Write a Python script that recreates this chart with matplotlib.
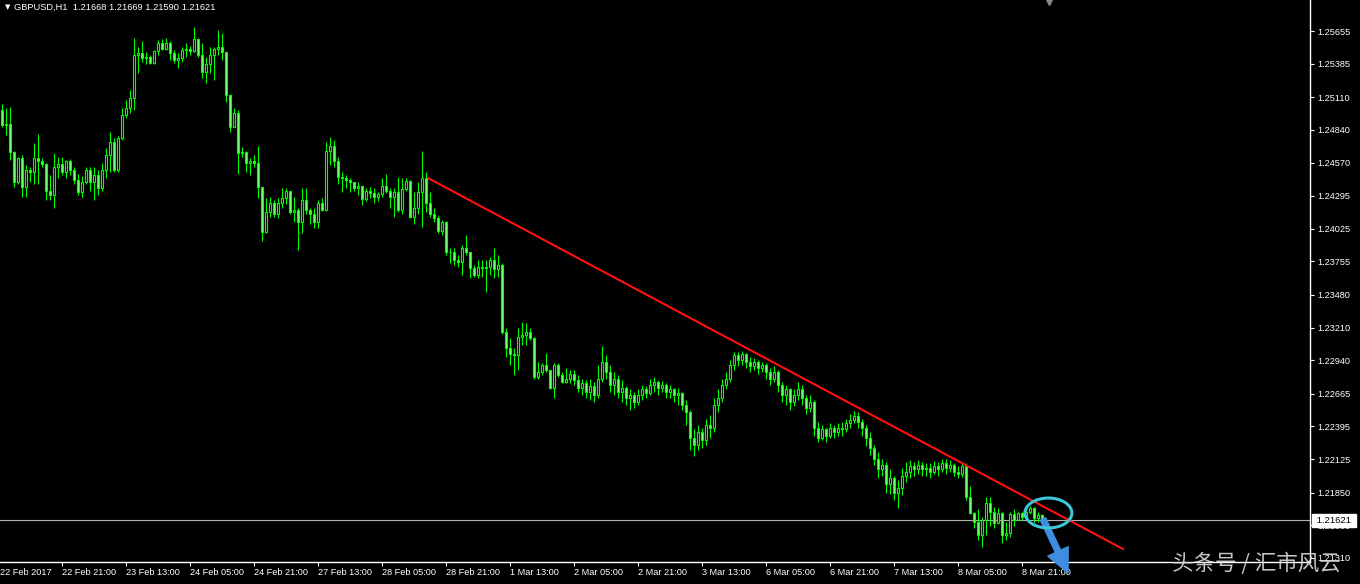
import matplotlib.pyplot as plt
import numpy as np
import pandas as pd
from matplotlib.patches import Ellipse
from matplotlib.transforms import blended_transform_factory

plt.rcParams['font.family'] = ['Liberation Sans', 'DejaVu Sans']

symbol = "GBPUSD,H1"
first_bar_time = "2017-02-22 06:00"
first_open = 1.2500

# hourly closes / highs / lows
closes = [
    1.2488, 1.2489, 1.2466, 1.2441, 1.2461, 1.2437, 1.2451, 1.2449, 1.2461, 1.2458,
    1.2456, 1.2434, 1.2430, 1.2453, 1.2456, 1.2449, 1.2458, 1.2451, 1.2443, 1.2433,
    1.2441, 1.2451, 1.2441, 1.2447, 1.2436, 1.2451, 1.2463, 1.2474, 1.2451, 1.2477,
    1.2496, 1.2502, 1.2510, 1.2546, 1.2547, 1.2543, 1.2544, 1.2539, 1.2549, 1.2556,
    1.2551, 1.2556, 1.2547, 1.2542, 1.2543, 1.2550, 1.2551, 1.2549, 1.2559, 1.2546,
    1.2532, 1.2538, 1.2546, 1.2551, 1.2552, 1.2548, 1.2513, 1.2486, 1.2498, 1.2465,
    1.2466, 1.2457, 1.2458, 1.2457, 1.2437, 1.2400, 1.2416, 1.2424, 1.2415, 1.2424,
    1.2428, 1.2434, 1.2416, 1.2418, 1.2408, 1.2426, 1.2418, 1.2415, 1.2408, 1.2424,
    1.2418, 1.2467, 1.2471, 1.2458, 1.2445, 1.2444, 1.2443, 1.2441, 1.2436, 1.2438,
    1.2427, 1.2434, 1.2432, 1.2429, 1.2431, 1.2438, 1.2434, 1.2429, 1.2433, 1.2418,
    1.2435, 1.2442, 1.2412, 1.2420, 1.2433, 1.2444, 1.2424, 1.2415, 1.2411, 1.2401,
    1.2408, 1.2383, 1.2383, 1.2377, 1.2375, 1.2387, 1.2383, 1.2370, 1.2364, 1.2371,
    1.2370, 1.2371, 1.2377, 1.2369, 1.2373, 1.2317, 1.2304, 1.2299, 1.2298, 1.2313,
    1.2315, 1.2317, 1.2312, 1.2280, 1.2284, 1.2290, 1.2286, 1.2271, 1.2290, 1.2282,
    1.2276, 1.2279, 1.2283, 1.2278, 1.2271, 1.2275, 1.2268, 1.2273, 1.2265, 1.2279,
    1.2293, 1.2284, 1.2274, 1.2279, 1.2268, 1.2271, 1.2263, 1.2265, 1.2260, 1.2265,
    1.2270, 1.2267, 1.2274, 1.2276, 1.2271, 1.2274, 1.2268, 1.2270, 1.2265, 1.2267,
    1.2257, 1.2251, 1.2230, 1.2224, 1.2235, 1.2228, 1.2241, 1.2238, 1.2257, 1.2263,
    1.2274, 1.2279, 1.2290, 1.2298, 1.2294, 1.2299, 1.2293, 1.2289, 1.2293, 1.2288,
    1.2290, 1.2284, 1.2279, 1.2284, 1.2274, 1.2265, 1.2270, 1.2260, 1.2265, 1.2270,
    1.2263, 1.2255, 1.2260, 1.2238, 1.2230, 1.2237, 1.2232, 1.2238, 1.2235, 1.2238,
    1.2237, 1.2242, 1.2245, 1.2248, 1.2243, 1.2238, 1.2230, 1.2222, 1.2213, 1.2204,
    1.2208, 1.2192, 1.2197, 1.2185, 1.2189, 1.2199, 1.2202, 1.2207, 1.2204, 1.2208,
    1.2204, 1.2205, 1.2202, 1.2207, 1.2204, 1.2209, 1.2205, 1.2208, 1.2202, 1.2200,
    1.2207, 1.2181, 1.2168, 1.2161, 1.2150, 1.2162, 1.2176, 1.2169, 1.2160, 1.2168,
    1.2150, 1.2152, 1.2167, 1.2162, 1.2168, 1.2165, 1.2169, 1.2172, 1.2164, 1.21668,
    1.21621,
]
highs = [
    1.2505, 1.2502, 1.2503, 1.2467, 1.2462, 1.2463, 1.2455, 1.2453, 1.2473, 1.2481,
    1.2461, 1.2457, 1.2447, 1.2465, 1.2462, 1.2462, 1.2459, 1.2460, 1.2453, 1.2448,
    1.2446, 1.2453, 1.2453, 1.2453, 1.2451, 1.2457, 1.2469, 1.2482, 1.2477, 1.2479,
    1.2502, 1.2509, 1.2517, 1.2560, 1.2552, 1.2557, 1.2548, 1.2546, 1.2550, 1.2558,
    1.2559, 1.2560, 1.2557, 1.2550, 1.2547, 1.2552, 1.2556, 1.2553, 1.2569, 1.2560,
    1.2556, 1.2544, 1.2552, 1.2552, 1.2566, 1.2564, 1.2548, 1.2514, 1.2502, 1.2500,
    1.2470, 1.2467, 1.2461, 1.2463, 1.2471, 1.2436, 1.2428, 1.2429, 1.2426, 1.2428,
    1.2436, 1.2436, 1.2434, 1.2429, 1.2420, 1.2436, 1.2436, 1.2420, 1.2420, 1.2426,
    1.2428, 1.2474, 1.2478, 1.2476, 1.2462, 1.2449, 1.2447, 1.2444, 1.2441, 1.2441,
    1.2437, 1.2436, 1.2437, 1.2436, 1.2433, 1.2444, 1.2448, 1.2436, 1.2436, 1.2445,
    1.2444, 1.2444, 1.2443, 1.2433, 1.2441, 1.2467, 1.2449, 1.2433, 1.2420, 1.2414,
    1.2410, 1.2409, 1.2387, 1.2387, 1.2381, 1.2389, 1.2397, 1.2383, 1.2373, 1.2377,
    1.2377, 1.2377, 1.2379, 1.2387, 1.2381, 1.2374, 1.2321, 1.2312, 1.2304, 1.2321,
    1.2326, 1.2325, 1.2321, 1.2313, 1.2293, 1.2292, 1.2300, 1.2285, 1.2292, 1.2292,
    1.2284, 1.2288, 1.2286, 1.2286, 1.2282, 1.2279, 1.2278, 1.2279, 1.2276, 1.2290,
    1.2306, 1.2298, 1.2290, 1.2284, 1.2282, 1.2278, 1.2273, 1.2270, 1.2268, 1.2270,
    1.2274, 1.2273, 1.2279, 1.2280, 1.2278, 1.2277, 1.2275, 1.2274, 1.2271, 1.2271,
    1.2268, 1.2261, 1.2253, 1.2237, 1.2241, 1.2238, 1.2246, 1.2249, 1.2263, 1.2270,
    1.2279, 1.2284, 1.2294, 1.2301, 1.2301, 1.2302, 1.2300, 1.2297, 1.2296, 1.2294,
    1.2293, 1.2292, 1.2288, 1.2289, 1.2286, 1.2276, 1.2274, 1.2271, 1.2270, 1.2276,
    1.2274, 1.2265, 1.2265, 1.2261, 1.2243, 1.2241, 1.2238, 1.2242, 1.2241, 1.2242,
    1.2243, 1.2246, 1.2250, 1.2252, 1.2251, 1.2246, 1.2241, 1.2235, 1.2224, 1.2218,
    1.2213, 1.2210, 1.2204, 1.2199, 1.2195, 1.2205, 1.2210, 1.2212, 1.2210, 1.2212,
    1.2210, 1.2209, 1.2209, 1.2211, 1.2210, 1.2213, 1.2213, 1.2212, 1.2209, 1.2207,
    1.2209, 1.2209, 1.2190, 1.2169, 1.2171, 1.2165, 1.2181, 1.2181, 1.2173, 1.2172,
    1.2169, 1.2161, 1.2169, 1.2171, 1.2169, 1.2169, 1.2173, 1.2174, 1.2173, 1.2169,
    1.21669,
]
lows = [
    1.2486, 1.2480, 1.2459, 1.2437, 1.2439, 1.2429, 1.2429, 1.2441, 1.2439, 1.2439,
    1.2453, 1.2426, 1.2426, 1.2420, 1.2444, 1.2447, 1.2444, 1.2447, 1.2439, 1.2430,
    1.2429, 1.2439, 1.2434, 1.2426, 1.2430, 1.2434, 1.2444, 1.2449, 1.2449, 1.2449,
    1.2476, 1.2494, 1.2498, 1.2500, 1.2531, 1.2540, 1.2538, 1.2538, 1.2538, 1.2546,
    1.2550, 1.2550, 1.2542, 1.2539, 1.2535, 1.2540, 1.2544, 1.2546, 1.2548, 1.2544,
    1.2527, 1.2523, 1.2531, 1.2525, 1.2546, 1.2542, 1.2507, 1.2482, 1.2486, 1.2448,
    1.2462, 1.2449, 1.2447, 1.2453, 1.2428, 1.2392, 1.2399, 1.2412, 1.2412, 1.2411,
    1.2420, 1.2423, 1.2415, 1.2408, 1.2385, 1.2399, 1.2415, 1.2406, 1.2403, 1.2403,
    1.2417, 1.2417, 1.2455, 1.2453, 1.2439, 1.2433, 1.2436, 1.2433, 1.2434, 1.2430,
    1.2422, 1.2425, 1.2428, 1.2424, 1.2425, 1.2429, 1.2432, 1.2420, 1.2412, 1.2416,
    1.2415, 1.2434, 1.2411, 1.2406, 1.2415, 1.2404, 1.2416, 1.2412, 1.2408, 1.2399,
    1.2397, 1.2381, 1.2374, 1.2373, 1.2371, 1.2364, 1.2381, 1.2362, 1.2363, 1.2362,
    1.2363, 1.2350, 1.2364, 1.2362, 1.2363, 1.2316, 1.2297, 1.2290, 1.2282, 1.2286,
    1.2307, 1.2307, 1.2311, 1.2279, 1.2279, 1.2282, 1.2284, 1.2270, 1.2263, 1.2280,
    1.2275, 1.2275, 1.2275, 1.2274, 1.2268, 1.2265, 1.2263, 1.2261, 1.2260, 1.2263,
    1.2276, 1.2279, 1.2268, 1.2265, 1.2263, 1.2260, 1.2257, 1.2253, 1.2255, 1.2257,
    1.2261, 1.2263, 1.2265, 1.2268, 1.2265, 1.2268, 1.2263, 1.2263, 1.2260, 1.2257,
    1.2253, 1.2241, 1.2220, 1.2215, 1.2220, 1.2222, 1.2224, 1.2230, 1.2235, 1.2251,
    1.2260, 1.2270, 1.2276, 1.2286, 1.2289, 1.2290, 1.2288, 1.2284, 1.2286, 1.2283,
    1.2284, 1.2279, 1.2274, 1.2276, 1.2268, 1.2260, 1.2257, 1.2253, 1.2256, 1.2261,
    1.2257, 1.2250, 1.2251, 1.2232, 1.2227, 1.2228, 1.2227, 1.2230, 1.2230, 1.2232,
    1.2232, 1.2235, 1.2238, 1.2242, 1.2238, 1.2232, 1.2223, 1.2216, 1.2208, 1.2197,
    1.2199, 1.2185, 1.2184, 1.2179, 1.2172, 1.2183, 1.2194, 1.2197, 1.2199, 1.2200,
    1.2199, 1.2199, 1.2197, 1.2200, 1.2199, 1.2202, 1.2200, 1.2202, 1.2199, 1.2197,
    1.2198, 1.2179, 1.2167, 1.2156, 1.2146, 1.2140, 1.2150, 1.2157, 1.2156, 1.2161,
    1.2143, 1.2146, 1.2148, 1.2157, 1.2162, 1.2162, 1.2162, 1.2167, 1.2161, 1.2161,
    1.21590,
]

price_ticks = [1.25655, 1.25385, 1.25110, 1.24840, 1.24570, 1.24295, 1.24025, 1.23755,
               1.23480, 1.23210, 1.22940, 1.22665, 1.22395, 1.22125, 1.21850, 1.21580,
               1.21310]
time_labels = ["22 Feb 21:00", "23 Feb 13:00", "24 Feb 05:00", "24 Feb 21:00",
               "27 Feb 13:00", "28 Feb 05:00", "28 Feb 21:00", "1 Mar 13:00",
               "2 Mar 05:00", "2 Mar 21:00", "3 Mar 13:00", "6 Mar 05:00",
               "6 Mar 21:00", "7 Mar 13:00", "8 Mar 05:00", "8 Mar 21:00"]

# trendline anchors (bar index, price)
trend_from = (106.5, 1.24443)
trend_to = (280.25, 1.21384)
circle_center = (261.6, 1.21681)
arrow_from = (260.25, 1.21632)
arrow_to = (266.5, 1.21187)

n = len(closes)
hours = pd.date_range(first_bar_time, periods=2 * n, freq="h")
hours = hours[hours.dayofweek < 5][:n]

opens = np.array([first_open] + closes[:-1])
c = np.array(closes)
h = np.maximum(np.array(highs), np.maximum(opens, c))
l = np.minimum(np.array(lows), np.minimum(opens, c))
x = np.arange(n)
up = c >= opens

fig = plt.figure(figsize=(13.6, 5.84), dpi=100, facecolor="black")
ax = fig.add_axes([0, 22 / 584, 1310 / 1360, 562 / 584])
ax.set_facecolor("black")
ax.set_xlim(-0.5, 327)
ax.set_ylim(1.21277, 1.25911)

lime = "#00ff00"
ax.vlines(x, l, h, color=lime, lw=0.8, zorder=2)
ax.bar(x, c - opens, bottom=opens, width=0.5, color=np.where(up, "black", "#7dff7d"),
       edgecolor=lime, lw=0.8, zorder=3)

# current price line and label
last = closes[-1]
ax.axhline(last, color="#b4b4b4", lw=0.8, zorder=1)
tr = blended_transform_factory(ax.transAxes, ax.transData)
ax.text(1.0 + 4 / 1310, last, f" {last:.5f} ", transform=tr, ha="left", va="center",
        fontsize=6.8, color="black", clip_on=False, zorder=10,
        bbox=dict(boxstyle="square,pad=0.2", fc="white", ec="white"))

# trendline, circle, arrow
ax.plot([trend_from[0], trend_to[0]], [trend_from[1], trend_to[1]], color="#ff1010", lw=1.5, zorder=5)
ax.add_patch(Ellipse(circle_center, 11.75, 0.00247, fill=False, ec="#3cc6d6", lw=2.2, zorder=6))
ann = ax.annotate("", xy=arrow_to, xytext=arrow_from, annotation_clip=False,
                  arrowprops=dict(arrowstyle="simple,head_length=0.9,head_width=0.85,tail_width=0.22",
                                  color="#3d8ee0", mutation_scale=19, shrinkA=0, shrinkB=0))
ann.arrow_patch.set_clip_on(False)
ann.arrow_patch.set_zorder(8)

# chart shift marker
ax.plot(261.75, 1.25911, marker="v", ms=7, color="#8a8a8a", clip_on=False)

# axes styling
for s in ["top", "left"]:
    ax.spines[s].set_visible(False)
for s in ["right", "bottom"]:
    ax.spines[s].set_color("white")
    ax.spines[s].set_linewidth(1)

ax.yaxis.tick_right()
ax.set_yticks(price_ticks, [f"{v:.5f}" for v in price_ticks])
ax.tick_params(axis="y", colors="white", length=3, width=0.8, labelsize=6.6, pad=2.5)

fmt = [f"{t.day} {t:%b %H:%M}" for t in hours]
tick_pos = [-0.5] + [fmt.index(lab) for lab in time_labels]
first_label = f"{hours[0].day} {hours[0]:%b %Y}"
ax.set_xticks(tick_pos, [first_label] + time_labels, ha="left")
ax.tick_params(axis="x", colors="white", length=3, width=0.8, labelsize=6.6, pad=1.5)
ax.xaxis.get_major_ticks()[0].tick1line.set_visible(False)

# header
ax.text(5 / 1310, 1 - 7 / 562, "▼", transform=ax.transAxes, color="white", fontsize=5,
        va="center", family=["DejaVu Sans"])
ax.text(14 / 1310, 1 - 7 / 562, f"{symbol}  1.21668 1.21669 1.21590 1.21621",
        transform=ax.transAxes, color="white", fontsize=6.7, va="center")

# watermark
fig.text(1172 / 1360, 20 / 584, "头条号 / 汇市风云", family=["Noto Sans CJK SC", "DejaVu Sans"],
         fontsize=15.5, color="#dcdcdc", alpha=0.9, va="center", ha="left", zorder=20)

fig.savefig("out.png", dpi=100, facecolor="black")
